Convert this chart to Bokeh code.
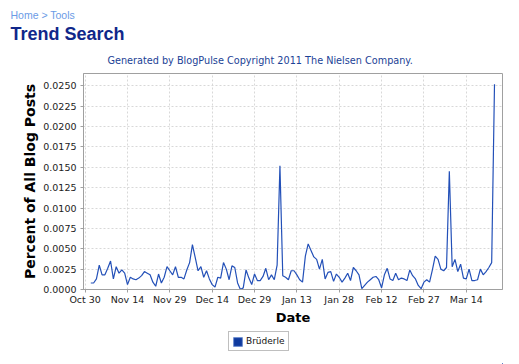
import datetime as dt
from bokeh.plotting import figure
from bokeh.layouts import column
from bokeh.models import (Title, Legend, LegendItem, FixedTicker, NumeralTickFormatter,
                          DatetimeTickFormatter, Range1d, ColumnDataSource)
from bokeh.embed import file_html
from bokeh.resources import INLINE

# ---------------- data ----------------
series_name = "Brüderle"
start_date = dt.datetime(2010, 11, 1)
values = [
    0.0008, 0.0008, 0.0013, 0.0030, 0.0018, 0.0018, 0.0026, 0.0035, 0.0013, 0.0028,
    0.0020, 0.0024, 0.0020, 0.0006, 0.0015, 0.0013, 0.0012, 0.0014, 0.0017, 0.0022,
    0.0020, 0.0018, 0.0009, 0.0004, 0.0019, 0.0008, 0.0015, 0.0028, 0.0023, 0.0018,
    0.0028, 0.0015, 0.0015, 0.0013, 0.0024, 0.0033, 0.0055, 0.0039, 0.0023, 0.0028,
    0.0015, 0.0023, 0.0013, 0.0006, 0.0003, 0.0015, 0.0014, 0.0033, 0.0025, 0.0012,
    0.0029, 0.0027, 0.0008, 0.0000, 0.0002, 0.0024, 0.0014, 0.0006, 0.0019, 0.0011,
    0.0011, 0.0016, 0.0026, 0.0012, 0.0018, 0.0012, 0.0030, 0.0152, 0.0017, 0.0015,
    0.0012, 0.0023, 0.0023, 0.0018, 0.0012, 0.0009, 0.0041, 0.0056, 0.0048, 0.0040,
    0.0037, 0.0025, 0.0037, 0.0013, 0.0021, 0.0022, 0.0010, 0.0019, 0.0015, 0.0009,
    0.0014, 0.0020, 0.0011, 0.0027, 0.0023, 0.0018, 0.0001, 0.0005, 0.0009, 0.0012,
    0.0015, 0.0016, 0.0012, 0.0002, 0.0018, 0.0026, 0.0013, 0.0011, 0.0020, 0.0012,
    0.0014, 0.0013, 0.0011, 0.0024, 0.0017, 0.0013, 0.0005, 0.0001, 0.0009, 0.0012,
    0.0009, 0.0024, 0.0041, 0.0037, 0.0025, 0.0023, 0.0027, 0.0145, 0.0028, 0.0037,
    0.0022, 0.0031, 0.0014, 0.0013, 0.0025, 0.0011, 0.0011, 0.0012, 0.0025, 0.0018,
    0.0022, 0.0027, 0.0033, 0.0252,
]
dates = [start_date + dt.timedelta(days=i) for i in range(len(values))]

x_tick_dates = [dt.datetime(2010, 10, 30), dt.datetime(2010, 11, 14), dt.datetime(2010, 11, 29),
                dt.datetime(2010, 12, 14), dt.datetime(2010, 12, 29), dt.datetime(2011, 1, 13),
                dt.datetime(2011, 1, 28), dt.datetime(2011, 2, 12), dt.datetime(2011, 2, 27),
                dt.datetime(2011, 3, 14)]
y_ticks = [0.0, 0.0025, 0.005, 0.0075, 0.01, 0.0125, 0.015, 0.0175, 0.02, 0.0225, 0.025]

x_start = dt.datetime(2010, 10, 29, 10)
x_end = dt.datetime(2011, 3, 26, 20)
y_max = 0.02651

LINE_COLOR = "#2350b8"

# ---------------- main figure ----------------
p = figure(width=519, height=328, x_axis_type="datetime", output_backend="svg",
           toolbar_location=None, x_range=Range1d(x_start, x_end), y_range=Range1d(0, y_max),
           min_border_left=83, min_border_right=17, min_border_top=73, min_border_bottom=39)
p.background_fill_color = "white"
p.border_fill_color = "white"
p.outline_line_color = "#a0a0a0"

src = ColumnDataSource(dict(date=dates, value=values))
line = p.line("date", "value", source=src, line_color=LINE_COLOR, line_width=1.2)

# titles
sub = Title(text="Generated by BlogPulse Copyright 2011 The Nielsen Company.", align="left",
            offset=24, text_font="DejaVu Sans", text_font_size="9.7px", text_font_style="normal",
            text_color="#1b4296", standoff=15)
p.add_layout(sub, "above")
t2 = Title(text="Trend Search", align="left", offset=-73, text_font="Liberation Sans",
           text_font_size="18px", text_font_style="bold", text_color="#10278a", standoff=3)
p.add_layout(t2, "above")
t1 = Title(text="Home > Tools", align="left", offset=-73, text_font="Liberation Sans",
           text_font_size="10.5px", text_font_style="normal", text_color="#6b9be6", standoff=0)
p.add_layout(t1, "above")

# axes
p.xaxis.ticker = FixedTicker(ticks=[d.timestamp() * 1000 for d in x_tick_dates])
p.xaxis.formatter = DatetimeTickFormatter(days="%b %d", months="%b %d")
p.yaxis.ticker = FixedTicker(ticks=y_ticks)
p.yaxis.formatter = NumeralTickFormatter(format="0.0000")
p.xaxis.axis_label = "Date"
p.yaxis.axis_label = "Percent of All Blog Posts"
for ax in (p.xaxis, p.yaxis):
    ax.axis_label_text_font = "DejaVu Sans"
    ax.axis_label_text_font_style = "bold"
    ax.axis_label_text_color = "black"
    ax.major_label_text_font = "DejaVu Sans"
    ax.major_label_text_font_size = "9.5px"
    ax.major_label_text_color = "#222222"
    ax.axis_line_color = "#a0a0a0"
    ax.major_tick_line_color = "#a0a0a0"
    ax.major_tick_out = 3
    ax.major_tick_in = 0
    ax.minor_tick_line_color = None
p.xaxis.major_label_standoff = 1
p.yaxis.major_label_standoff = 4
p.xaxis.axis_label_text_font_size = "13px"
p.yaxis.axis_label_text_font_size = "14px"
p.xaxis.axis_label_standoff = 2
p.yaxis.axis_label_standoff = 2

p.grid.grid_line_color = "#d8d8d8"
p.grid.grid_line_dash = "2 2"
p.xgrid.ticker = p.xaxis.ticker
p.ygrid.ticker = p.yaxis.ticker

# ---------------- legend strip ----------------
lg = figure(width=519, height=36, output_backend="svg", toolbar_location=None,
            x_range=Range1d(0, 1), y_range=Range1d(0, 1),
            x_axis_location=None, y_axis_location=None,
            min_border_left=0, min_border_right=0, min_border_top=0, min_border_bottom=0)
lg.grid.visible = False
lg.outline_line_color = None
lg.background_fill_color = "white"
lg.border_fill_color = "white"
# legend swatch renderer (series data lies outside this strip's ranges, so only the swatch shows)
sw = lg.vbar(x="date", top="value", width=1, source=src,
             fill_color="#0f3a9e", line_color="#6f8fd0", line_width=1)

legend = Legend(items=[LegendItem(label=series_name, renderers=[sw], index=0)],
                location=(145, 13), orientation="horizontal",
                border_line_color="#808080", border_line_width=1,
                label_text_font="DejaVu Sans", label_text_font_size="9px",
                label_text_color="#111111", glyph_width=11, glyph_height=11,
                padding=3, margin=0, label_standoff=3, spacing=0,
                label_height=12, background_fill_alpha=1)
lg.add_layout(legend, "center")

layout = column(p, lg, spacing=0)
open("out.html", "w").write(file_html(layout, INLINE))
